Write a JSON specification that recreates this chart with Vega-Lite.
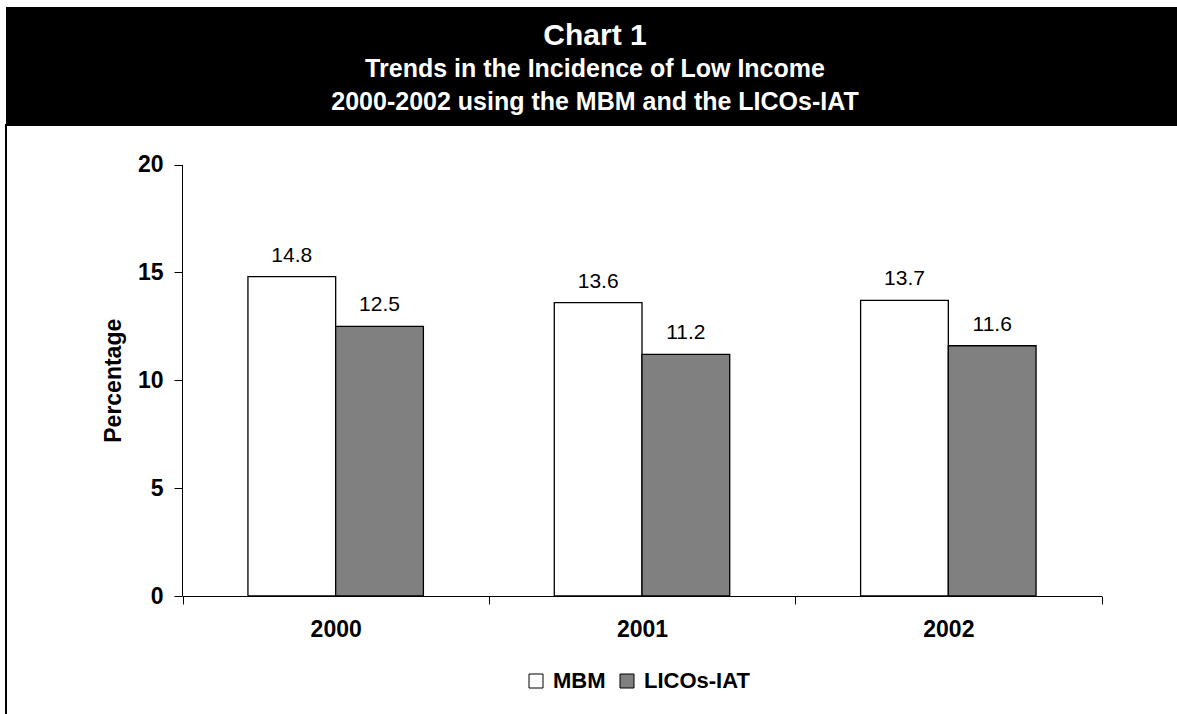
{
  "$schema": "https://vega.github.io/schema/vega-lite/v6.json",
  "padding": {"left": 5, "top": 7, "right": 0, "bottom": 0},
  "spacing": 0,
  "background": "white",
  "config": {"font": "Liberation Sans", "view": {"stroke": null}, "axis": {"grid": false}},
  "vconcat": [
    {
      "width": 1172,
      "height": 117,
      "view": {"fill": "black", "stroke": null},
      "data": {"values": [
        {"line": 1, "text": "Chart 1"},
        {"line": 2, "text": "Trends in the Incidence of Low Income"},
        {"line": 3, "text": "2000-2002 using the MBM and the LICOs-IAT"}
      ]},
      "encoding": {
        "y": {"field": "line", "type": "quantitative", "scale": {"domain": [1, 3], "range": [38, 102.5], "nice": false, "zero": false}, "axis": null},
        "text": {"field": "text"}
      },
      "layer": [
        {"transform": [{"filter": "datum.line == 1"}], "mark": {"type": "text", "fontSize": 30, "fontWeight": "bold", "color": "white", "baseline": "alphabetic", "dx": 3}},
        {"transform": [{"filter": "datum.line > 1"}], "mark": {"type": "text", "fontSize": 25, "fontWeight": "bold", "color": "white", "baseline": "alphabetic", "dx": 3}}
      ]
    },
    {
      "width": 1172,
      "height": 590,
      "view": {"stroke": "black", "strokeWidth": 2},
      "data": {"values": [
        {"year": "2000", "series": "MBM", "value": 14.8},
        {"year": "2000", "series": "LICOs-IAT", "value": 12.5},
        {"year": "2001", "series": "MBM", "value": 13.6},
        {"year": "2001", "series": "LICOs-IAT", "value": 11.2},
        {"year": "2002", "series": "MBM", "value": 13.7},
        {"year": "2002", "series": "LICOs-IAT", "value": 11.6}
      ]},
      "encoding": {
        "x": {"field": "year", "type": "nominal", "scale": {"range": [176.5, 1095.5], "paddingInner": 0, "paddingOuter": 0},
          "axis": {"orient": "bottom", "offset": -119, "title": null, "tickBand": "extent", "tickSize": 8, "labelFontSize": 23, "labelFontWeight": "bold", "labelPadding": 14, "labelAngle": 0, "domainColor": "black", "tickColor": "black", "labelColor": "black"}},
        "xOffset": {"field": "series", "type": "nominal", "scale": {"domain": ["MBM", "LICOs-IAT"], "paddingInner": 0, "paddingOuter": 0.746}},
        "y": {"field": "value", "type": "quantitative", "scale": {"domain": [0, 20], "range": [471, 39.5], "nice": false},
          "axis": {"orient": "left", "offset": -176, "values": [0, 5, 10, 15, 20], "title": "Percentage", "titleFontSize": 23, "titleFontWeight": "bold", "titlePadding": 12, "titleColor": "black", "labelFontSize": 23, "labelFontWeight": "bold", "labelPadding": 11, "labelColor": "black", "tickSize": 8, "tickColor": "black", "domainColor": "black", "grid": false}}
      },
      "layer": [
        {
          "mark": {"type": "bar", "stroke": "black", "strokeWidth": 1.3},
          "encoding": {
            "color": {"field": "series", "type": "nominal", "scale": {"domain": ["MBM", "LICOs-IAT"], "range": ["#ffffff", "#808080"]},
              "legend": {"title": null, "orient": "none", "legendX": 519, "legendY": 663, "direction": "horizontal", "symbolType": "square", "symbolSize": 196, "symbolStrokeColor": "black", "symbolStrokeWidth": 1, "labelFontSize": 22, "labelFontWeight": "bold", "labelColor": "black", "labelOffset": 6, "columnPadding": 10, "padding": 0}}
          }
        },
        {
          "mark": {"type": "text", "fontSize": 21, "baseline": "alphabetic", "dy": -15, "color": "black"},
          "encoding": {"text": {"field": "value", "type": "quantitative", "format": ".1f"}}
        }
      ]
    }
  ]
}
